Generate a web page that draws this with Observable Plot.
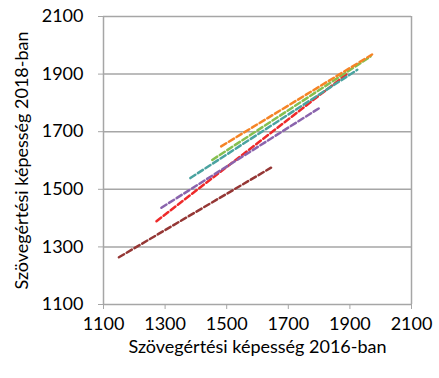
<!DOCTYPE html>
<html>
<head>
<meta charset="utf-8">
<script src="https://cdn.jsdelivr.net/npm/d3@7"></script>
<script src="https://cdn.jsdelivr.net/npm/@observablehq/plot@0.6"></script>
<style>
  html, body { margin: 0; padding: 0; background: #fff; }
  #chart svg { display: block; }
</style>
</head>
<body>
<div id="chart"></div>
<script>
// Series (order of drawing)
const seriesNames = ["barna", "piros", "lila", "türkiz", "zöld", "narancs"];
const seriesColors = ["#953735", "#ee2a2a", "#8a64ad", "#4aa3a0", "#86bf4f", "#f58426"];
// Line endpoints
const x2016Start = [1150, 1272, 1288, 1382, 1453, 1482];
const x2016End   = [1644, 1891, 1805, 1924, 1967, 1972];
const y2018Start = [1264, 1389, 1436, 1539, 1602, 1649];
const y2018End   = [1575, 1901, 1785, 1915, 1961, 1968];
// Axis ticks
const xTicks = [1100, 1300, 1500, 1700, 1900, 2100];
const yTicks = [1100, 1300, 1500, 1700, 1900, 2100];
const xTitle = "Szövegértési képesség 2016-ban";
const yTitle = "Szövegértési képesség 2018-ban";

const rows = [];
seriesNames.forEach((s, i) => {
  rows.push({series: s, x: x2016Start[i], y: y2018Start[i]});
  rows.push({series: s, x: x2016End[i], y: y2018End[i]});
});

const gray = "#a6a6a6";
const fs = 18;
const chart = Plot.plot({
  width: 439,
  height: 378,
  marginLeft: 103,
  marginRight: 28,
  marginTop: 16,
  marginBottom: 74,
  style: {fontFamily: "Lato, sans-serif", fontSize: fs + "px", fontWeight: "normal", color: "#000", background: "#fff"},
  x: {domain: [1100, 2100]},
  y: {domain: [1100, 2100]},
  color: {domain: seriesNames, range: seriesColors},
  marks: [
    Plot.ruleY(yTicks, {stroke: gray, strokeWidth: 1.5}),
    Plot.ruleX([1100, 2100], {stroke: gray, strokeWidth: 1.5}),
    Plot.axisX({ticks: xTicks, tickSize: 5, tickPadding: 8, stroke: gray, fill: "#000", tickFormat: d => String(d), label: null, fontSize: fs}),
    Plot.axisY({ticks: yTicks, tickSize: 5, tickPadding: 15, stroke: gray, fill: "#000", tickFormat: d => String(d), label: null, fontSize: fs}),
    Plot.line(rows, {x: "x", y: "y", z: "series", stroke: "series", strokeWidth: 2.5, strokeDasharray: "6,3"}),
    Plot.text([xTitle], {frameAnchor: "bottom", dy: 43, lineAnchor: "middle", textAnchor: "middle", text: d => d, fontSize: fs, fontWeight: "normal", fill: "#000"}),
    Plot.text([yTitle], {frameAnchor: "left", dx: -81, rotate: -90, lineAnchor: "middle", textAnchor: "middle", text: d => d, fontSize: fs, fontWeight: "normal", fill: "#000"})
  ]
});
document.getElementById("chart").appendChild(chart);
</script>
</body>
</html>
